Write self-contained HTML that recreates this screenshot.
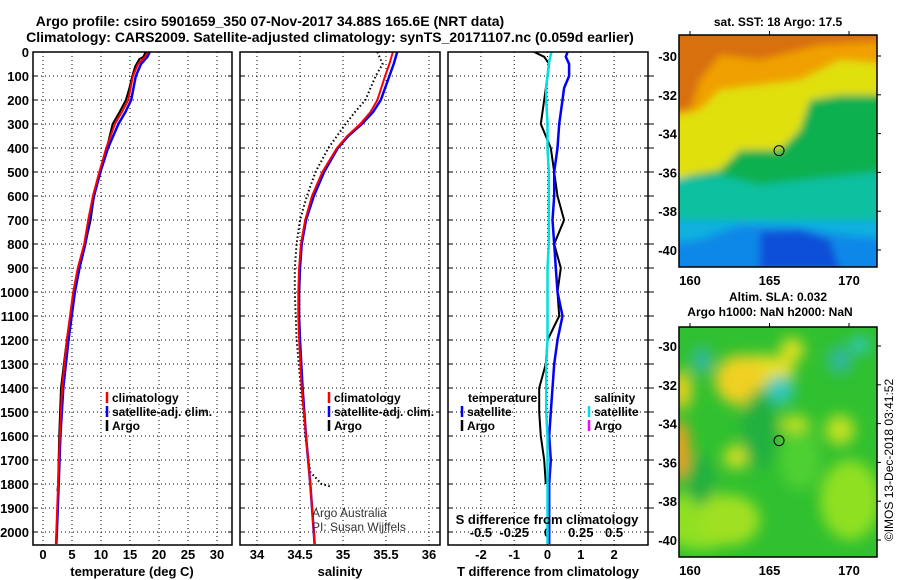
<!DOCTYPE html>
<html><head><meta charset="utf-8">
<style>
body{margin:0;background:#fff;}
svg{display:block;font-family:"Liberation Sans",Arial,sans-serif;}
.b{font-weight:bold;}
</style></head><body>
<svg id="fig" width="900" height="580" viewBox="0 0 900 580" xmlns="http://www.w3.org/2000/svg">
<defs>
<clipPath id="c1"><rect x="33" y="52" width="199" height="493"/></clipPath>
<clipPath id="c2"><rect x="240" y="52" width="200" height="493"/></clipPath>
<clipPath id="c3"><rect x="448" y="52" width="200" height="493"/></clipPath>
<clipPath id="m1"><rect x="679" y="35" width="198" height="232"/></clipPath>
<clipPath id="m2"><rect x="679" y="327" width="198" height="230"/></clipPath>
<filter id="bl"><feGaussianBlur stdDeviation="7"/></filter>
<filter id="bl2"><feGaussianBlur stdDeviation="4"/></filter>
</defs>
<text x="270" y="26" class="b" font-size="14" text-anchor="middle">Argo profile: csiro 5901659_350 07-Nov-2017 34.88S 165.6E (NRT data)</text>
<text x="330" y="42" class="b" font-size="14" text-anchor="middle">Climatology: CARS2009. Satellite-adjusted climatology: synTS_20171107.nc (0.059d earlier)</text>
<g id="plots"></g>
<g id="maps"></g>
<text transform="translate(893,460) rotate(-90)" font-size="12" text-anchor="middle">©IMOS 13-Dec-2018 03:41:52</text>
</svg>
<script>
// ---- data ----
const depthTemp = [0,20,50,100,150,200,250,300,400,500,600,700,800,900,1000,1200,1400,1600,1800,2000,2050];
const tempClim  = [18.1,17.6,16.4,15.5,15.1,14.7,13.6,12.4,10.9,9.7,8.6,7.8,7.1,6.0,5.2,4.1,3.3,2.9,2.6,2.3,2.2];
const tempSat   = [18.4,18.0,16.9,16.0,15.6,15.2,14.2,13.0,11.2,9.9,8.8,8.0,7.3,6.3,5.5,4.4,3.5,3.0,2.7,2.4,2.3];
const depthArgoT= [0,20,30,60,100,150,200,250,300,400,500,600,700,800,900,1000,1200,1400,1600,1800,1830];
const tempArgo  = [17.7,17.3,16.6,15.9,15.4,14.9,14.3,13.2,12.0,11.0,9.8,8.8,8.2,7.3,6.3,5.5,4.1,3.1,2.8,2.6,2.5];
const depthSal  = [0,50,100,200,250,300,350,400,500,600,700,800,900,1000,1100,1200,1400,1600,1800,2000,2050];
const salClim   = [35.58,35.54,35.49,35.40,35.32,35.20,35.05,34.93,34.76,34.64,34.56,34.51,34.49,34.48,34.48,34.49,34.52,34.57,34.62,34.66,34.67];
const salSat    = [35.63,35.59,35.54,35.44,35.35,35.22,35.06,34.94,34.78,34.66,34.57,34.52,34.50,34.49,34.49,34.50,34.53,34.57,34.62,34.66,34.67];
const depthArgoS= [0,50,100,200,250,300,350,400,500,600,700,800,900,1000,1100,1200,1400,1600,1750,1800,1810];
const salArgo   = [35.40,35.46,35.38,35.26,35.14,35.03,34.93,34.83,34.68,34.58,34.50,34.46,34.44,34.44,34.45,34.46,34.51,34.56,34.62,34.75,34.85];
const depthDiff = [0,20,50,100,150,200,300,400,500,600,700,800,900,1000,1100,1200,1300,1400,1500,1600,1700,1800,1900,2000,2050];
const tDiffSat  = [0.6,0.55,0.65,0.65,0.5,0.45,0.35,0.3,0.2,0.2,0.15,0.2,0.25,0.3,0.45,0.3,0.2,0.15,0.1,0.05,0.1,0.05,0.05,0.05,0.05];
const sDiffSat  = [0.03,0.02,0.01,0.0,-0.01,-0.01,0.0,0.0,0.01,0.01,0.01,0.01,0.0,0.0,0.0,0.0,-0.01,-0.01,-0.01,0.0,0.0,0.0,0.0,0.0,0.0];
const depthDiffArgo = [0,20,50,100,200,300,400,500,600,700,800,900,1000,1100,1200,1300,1400,1500,1600,1700,1800];
const tDiffArgo = [-0.4,-0.1,0.05,0.0,-0.1,-0.2,0.1,0.2,0.3,0.5,0.2,0.4,0.3,0.35,0.0,-0.05,-0.25,-0.25,-0.2,-0.1,-0.05];
const depthTicks = [0,100,200,300,400,500,600,700,800,900,1000,1100,1200,1300,1400,1500,1600,1700,1800,1900,2000];
const tTicks = [0,5,10,15,20,25,30];
const sTicks = [34,34.5,35,35.5,36];
const dTTicks = [-2,-1,0,1,2];
const dSTicks = [-0.5,-0.25,0,0.25,0.5];
const dSTickLabels = ["-0.5","-0.25","0","0.25","0.5"];

const NS='http://www.w3.org/2000/svg';
const yD = d => 52 + d*0.24;
const xT = t => 43 + t*5.8;
const xS = s => 257 + (s-34)*86;
const xDT = v => 547.5 + v*33.3;
const xDS = v => 547.5 + v*133.2;
const g = document.getElementById('plots');
function el(tag, attrs, parent){const e=document.createElementNS(NS,tag);for(const k in attrs)e.setAttribute(k,attrs[k]);(parent||g).appendChild(e);return e;}
function txt(x,y,s,size,anchor,bold,parent){const t=el('text',{x:x,y:y,'font-size':size,'text-anchor':anchor||'start'},parent);if(bold)t.setAttribute('font-weight','bold');t.textContent=s;return t;}
function line(xs,ds,fx,color,w,clip,dash){
  let p='';for(let i=0;i<xs.length;i++)p+=(i?'L':'M')+fx(xs[i]).toFixed(1)+','+yD(ds[i]).toFixed(1);
  const a={d:p,fill:'none',stroke:color,'stroke-width':w,'clip-path':'url(#'+clip+')'};
  if(dash)a['stroke-dasharray']=dash;
  return el('path',a);
}
const panels=[{x:33,w:199,c:'c1'},{x:240,w:200,c:'c2'},{x:448,w:200,c:'c3'}];
panels.forEach((p,i)=>{
  depthTicks.forEach(d=>{
    if(d===0)return;
    const l=el('line',{x1:p.x,x2:p.x+p.w,y1:yD(d),y2:yD(d),stroke:'#000','stroke-width':1,'stroke-dasharray':'1,3'});
    
    
    el('line',{x1:p.x,x2:p.x+4,y1:yD(d),y2:yD(d),stroke:'#000'});
    el('line',{x1:p.x+p.w-4,x2:p.x+p.w+(i===2?6:0),y1:yD(d),y2:yD(d),stroke:'#000'});
  });
});
depthTicks.forEach(d=>{
  const t=txt(29,yD(d)+5,String(d),13,'end',true);
  
  
});
tTicks.forEach((v,i)=>{
  el('line',{x1:xT(v),x2:xT(v),y1:52,y2:545,stroke:'#000','stroke-dasharray':'1,3'});
  const t=txt(xT(v),559,String(v),13,'middle',true);
  
  
});
sTicks.forEach(v=>{
  el('line',{x1:xS(v),x2:xS(v),y1:52,y2:545,stroke:'#000','stroke-dasharray':'1,3'});
  const t=txt(xS(v),559,String(v),13,'middle',true);
  
  
});
dTTicks.forEach(v=>{
  el('line',{x1:xDT(v),x2:xDT(v),y1:52,y2:545,stroke:'#000','stroke-dasharray':'1,3'});
  const t=txt(xDT(v),559,String(v),13,'middle',true);
  
  
});
dSTicks.forEach((v,i)=>{
  const t=txt(xDS(v),537,dSTickLabels[i],13,'middle',true);
  
  
});
let s;
s=line(tempArgo,depthArgoT,xT,'#000',2,'c1');
s=line(tempSat,depthTemp,xT,'#0000ff',2.5,'c1');
s=line(tempClim,depthTemp,xT,'#ff0000',2,'c1');
s=line(salArgo,depthArgoS,xS,'#000',2,'c2','1.5,2.5');
s=line(salSat,depthSal,xS,'#0000ff',2.5,'c2');
s=line(salClim,depthSal,xS,'#ff0000',2,'c2');
s=line(tDiffArgo,depthDiffArgo,xDT,'#000',2,'c3');
s=line(tDiffSat,depthDiff,xDT,'#0000ff',2.5,'c3');
s=line(sDiffSat,depthDiff,xDS,'#00e0e0',2.5,'c3');
panels.forEach(p=>{
  const r=el('rect',{x:p.x,y:52,width:p.w,height:493,fill:'none',stroke:'#000','stroke-width':1.5});
  
  
});
s=txt(132,576,'temperature (deg C)',13,'middle',true);
s=txt(340,576,'salinity',13,'middle',true);
s=txt(548,576,'T difference from climatology',13,'middle',true);
s=txt(547,524,'S difference from climatology',13,'middle',true);
function leg(x,y,c,label,name){
  el('line',{x1:x,x2:x,y1:y-10,y2:y+1,stroke:c,'stroke-width':2.5});
  const t=txt(x+5,y,label,12,'start',true);
  
  
}
leg(107,402,'#ff0000','climatology','legend-climatology');
leg(107,416,'#0000ff','satellite-adj. clim.','legend-satellite');
leg(107,430,'#000','Argo','legend-argo');
leg(329,402,'#ff0000','climatology','legend-climatology-2');
leg(329,416,'#0000ff','satellite-adj. clim.','legend-satellite-2');
leg(329,430,'#000','Argo','legend-argo-2');
s=txt(468,402,'temperature',12,'start',true);
leg(462,416,'#0000ff','satellite','legend-t-satellite');
leg(462,430,'#000','Argo','legend-t-argo');
s=txt(594,402,'salinity',12,'start',true);
leg(589,416,'#00e0e0','satellite','legend-s-satellite');
leg(589,430,'#ff00ff','Argo','legend-s-argo');
s=txt(312,517,'Argo Australia',12,'start',false);s.setAttribute('fill','#333');
s=txt(312,531,'PI: Susan Wijffels',12,'start',false);s.setAttribute('fill','#333');

// ---- maps ----
const mg=document.getElementById('maps');
const lonTicks=[160,165,170];
const latTicks=[-30,-32,-34,-36,-38,-40];
function mapAxes(top,h,lat30y,name){
  const lx=v=>690+(v-160)*15.9;
  const ly=v=>lat30y+(-30-v)*19.4;
  const fr=el('rect',{x:679,y:top,width:198,height:h,fill:'none',stroke:'#000','stroke-width':1.5},mg);
  
  
  lonTicks.forEach(v=>{
    el('line',{x1:lx(v),x2:lx(v),y1:top-4,y2:top,stroke:'#000'},mg);
    const t=txt(lx(v),top+h+18,String(v),13,'middle',true,mg);
    
    
  });
  latTicks.forEach(v=>{
    el('line',{x1:877,x2:881,y1:ly(v),y2:ly(v),stroke:'#000'},mg);
    const t=txt(677,ly(v)+5,String(v),13,'end',true,mg);
    
    
  });
  const c=el('circle',{cx:lx(165.6),cy:ly(-34.88),r:5,fill:'none',stroke:'#000'},mg);
  
  
}
const m1=el('g',{'clip-path':'url(#m1)'},mg);


el('rect',{x:679,y:35,width:198,height:232,fill:'#10b0e0'},m1);
const gb=el('g',{filter:'url(#bl2)'},m1);
el('rect',{x:660,y:20,width:240,height:180,fill:'#10b050'},gb);
el('path',{d:'M660,20 H900 V95 L840,95 L810,100 L800,130 L780,150 L740,150 L720,170 L690,175 L660,185 Z',fill:'#e0e010'},gb);
el('path',{d:'M660,20 H900 V65 L840,60 L800,80 L760,85 L720,90 L700,110 L660,120 Z',fill:'#f0a000'},gb);
el('path',{d:'M660,20 H900 V40 L820,45 L760,60 L720,55 L700,80 L690,110 L660,110 Z',fill:'#d87010'},gb);
el('path',{d:'M660,180 L720,175 L760,185 L820,178 L900,170 V220 H660 Z',fill:'#10c0a0'},gb);
el('path',{d:'M660,245 L700,240 L740,225 L800,228 L840,235 L900,240 V280 H660 Z',fill:'#1088e8'},gb);
el('path',{d:'M760,232 L800,230 L830,240 L840,270 L760,270 Z',fill:'#1050d8'},gb);
mapAxes(35,232,56,'sst-map');
s=txt(778,26,'sat. SST: 18 Argo: 17.5',12,'middle',true,mg);
const m2=el('g',{'clip-path':'url(#m2)'},mg);


el('rect',{x:679,y:327,width:198,height:230,fill:'#30c030'},m2);
const gs=el('g',{filter:'url(#bl)'},m2);
[[700,520,40,30,'#90e020'],[850,500,30,40,'#90e020'],[760,370,35,15,'#e8e020'],[740,380,25,25,'#f0d020'],[680,450,10,30,'#f0a020'],[682,390,10,20,'#e8d020'],[792,350,12,12,'#e0e020'],[840,430,15,15,'#c0e020'],[736,457,12,12,'#d0e020'],[795,425,15,10,'#c0e020'],[780,390,14,14,'#30c8c0'],[702,360,10,14,'#30b8a0'],[840,360,12,14,'#30b8a0'],[860,345,10,8,'#30c8c8'],[730,520,30,25,'#a0e020'],[800,460,20,30,'#50d030'],[760,430,18,40,'#20b040'],[700,480,15,25,'#20b040']].forEach(a=>{
  el('ellipse',{cx:a[0],cy:a[1],rx:a[2],ry:a[3],fill:a[4]},gs);
});
mapAxes(327,230,346,'sla-map');
s=txt(778,301,'Altim. SLA: 0.032',12,'middle',true,mg);
s=txt(770,316,'Argo h1000: NaN h2000: NaN',12,'middle',true,mg);
</script>
</body></html>
